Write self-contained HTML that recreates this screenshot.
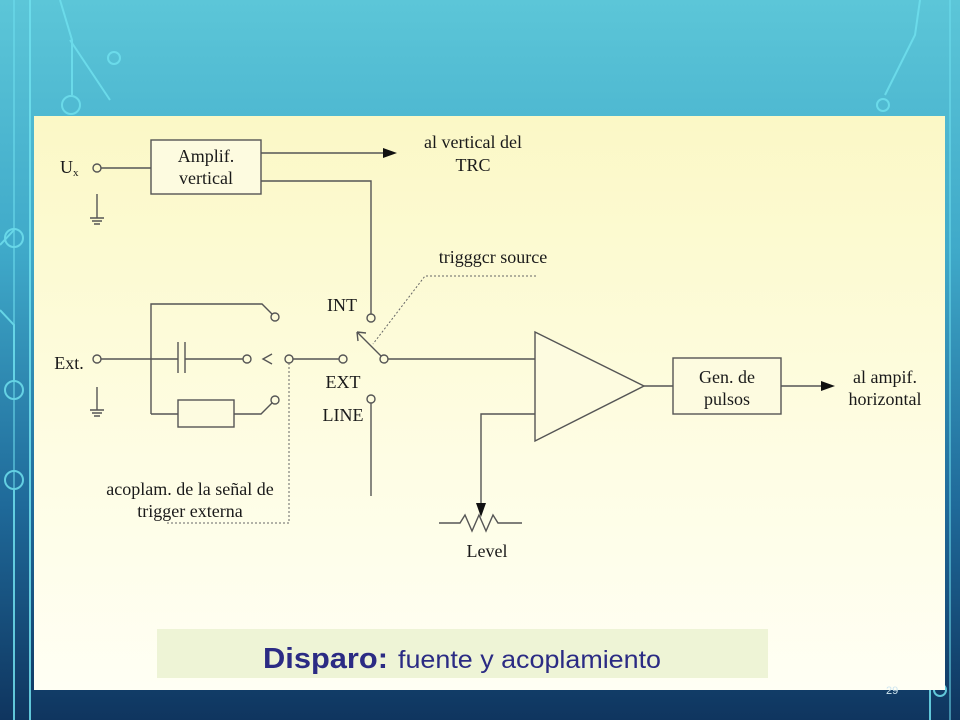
<!DOCTYPE html>
<html><head><meta charset="utf-8"><style>
html,body{margin:0;padding:0;width:960px;height:720px;overflow:hidden}
svg{display:block}
</style></head><body>
<svg width="960" height="720" viewBox="0 0 960 720" xmlns="http://www.w3.org/2000/svg">
<defs>
<linearGradient id="bg" x1="0" y1="0" x2="0" y2="1">
<stop offset="0" stop-color="#5cc6d8"/>
<stop offset="0.35" stop-color="#3fa9c9"/>
<stop offset="0.7" stop-color="#1f6a9a"/>
<stop offset="1" stop-color="#0f355f"/>
</linearGradient>
<linearGradient id="panel" x1="0" y1="0" x2="0" y2="1">
<stop offset="0" stop-color="#fbf8c6"/>
<stop offset="0.6" stop-color="#fefde4"/>
<stop offset="1" stop-color="#fffff4"/>
</linearGradient>
</defs>
<rect width="960" height="720" fill="url(#bg)"/>
<g fill="none" stroke="#6fe0ee" stroke-width="2" opacity="0.85">
<path d="M30 0 V720"/><path d="M14 0 V720" opacity="0.6"/>
<path d="M60 0 L72 40 V95"/><circle cx="71" cy="105" r="9"/>
<path d="M70 40 L110 100"/><circle cx="114" cy="58" r="6"/>
<path d="M0 245 L14 230"/><circle cx="14" cy="238" r="9"/>
<path d="M0 310 L14 325 V380"/><circle cx="14" cy="390" r="9"/><circle cx="14" cy="480" r="9"/>
<path d="M14 490 V720"/>
<path d="M920 0 L915 35 L885 95"/><circle cx="883" cy="105" r="6"/>
<path d="M950 0 V720" opacity="0.6"/>
<path d="M930 690 V720"/><circle cx="940" cy="690" r="6"/>
</g>
<rect x="34" y="116" width="911" height="574" fill="url(#panel)"/>
<rect x="157" y="629" width="611" height="49" fill="#eef4d6"/>
<text y="668" font-family="Liberation Sans, sans-serif" fill="#2b2b84"><tspan x="263" font-size="29" font-weight="bold" textLength="125" lengthAdjust="spacingAndGlyphs">Disparo:</tspan><tspan x="398" font-size="25" textLength="263" lengthAdjust="spacingAndGlyphs">fuente y acoplamiento</tspan></text>
<text x="886" y="694" font-family="Liberation Sans, sans-serif" font-size="11" fill="#cfe6f0">29</text>

<g stroke="#555" stroke-width="1.4" fill="none">
<circle cx="97" cy="168" r="4"/><path d="M101 168 H151"/>
<rect x="151" y="140" width="110" height="54" fill="#fdfbe0"/>
<path d="M261 153 H384"/>
<path d="M261 181 H371 V314"/>
<path d="M97 194 V218 M90 218 H104 M92 221 H102 M94 224 H100"/>
<circle cx="97" cy="359" r="4"/><path d="M101 359 H178 M185 359 H243"/>
<path d="M178 342 V373 M185 342 V373"/>
<circle cx="247" cy="359" r="4"/>
<path d="M97 387 V410 M90 410 H104 M92 413 H102 M94 416 H100"/>
<path d="M151 414 V304 H262 L272 314"/><circle cx="275" cy="317" r="4"/>
<path d="M151 414 H178"/><rect x="178" y="400" width="56" height="27" fill="#fdfbe0"/>
<path d="M234 414 H261 L272 403"/><circle cx="275" cy="400" r="4"/>
<path d="M272 354 L263 359 L272 364"/>
<circle cx="289" cy="359" r="4"/><path d="M293 359 H339"/>
<circle cx="343" cy="359" r="4"/>
<circle cx="371" cy="318" r="4"/>
<circle cx="371" cy="399" r="4"/><path d="M371 403 V496"/>
<circle cx="384" cy="359" r="4"/>
<path d="M381 356 L357 332 M357 332 L358 341 M357 332 L366 333"/>
<path d="M388 359 H535"/>
<path d="M535 332 L644 386 L535 441 Z" fill="#fdfbe0"/>
<path d="M535 414 H481 V505"/>
<path d="M439 523 H460 L465 515 L472 531 L479 515 L486 531 L493 515 L498 523 H522"/>
<path d="M644 386 H673"/>
<rect x="673" y="358" width="108" height="56" fill="#fdfbe0"/>
<path d="M781 386 H822"/>
</g>
<g fill="#111">
<path d="M383 148 L397 153 L383 158 Z"/>
<path d="M476 503 L486 503 L481 517 Z"/>
<path d="M821 381 L835 386 L821 391 Z"/>
</g>
<g stroke="#666" stroke-width="1" stroke-dasharray="2,2" fill="none">
<path d="M536 276 H425 L373 344"/>
<path d="M289 363 V523 H166"/>
</g>
<g font-family="Liberation Serif, serif" font-size="18" fill="#1a1a1a" text-anchor="middle">
<text x="206" y="162">Amplif.</text><text x="206" y="184">vertical</text>
<text x="473" y="148">al vertical del</text><text x="473" y="171">TRC</text>
<text x="493" y="263">trigggcr source</text>
<text x="342" y="311">INT</text>
<text x="343" y="388">EXT</text>
<text x="343" y="421">LINE</text>
<text x="190" y="495">acoplam. de la señal de</text>
<text x="190" y="517">trigger externa</text>
<text x="487" y="557">Level</text>
<text x="727" y="383">Gen. de</text><text x="727" y="405">pulsos</text>
<text x="885" y="383">al ampif.</text><text x="885" y="405">horizontal</text>
<text x="60" y="173" text-anchor="start">U<tspan font-size="11" dy="3">x</tspan></text>
<text x="69" y="369">Ext.</text>
</g>
</svg>
</body></html>
